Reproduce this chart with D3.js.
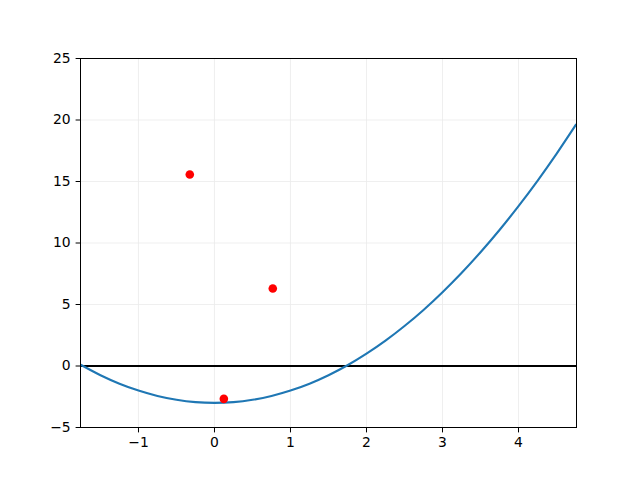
<!DOCTYPE html>
<html><head><meta charset="utf-8">
<script src="https://cdn.jsdelivr.net/npm/d3@7"></script>
<style>body{margin:0;background:#fff}svg{display:block}</style>
</head><body>
<script>
const curveX = [-1.76, -1.5, -1.25, -1.0, -0.75, -0.5, -0.25, 0, 0.25, 0.5, 0.75, 1.0, 1.25, 1.5, 1.75, 2.0, 2.25, 2.5, 2.75, 3.0, 3.25, 3.5, 3.75, 4.0, 4.25, 4.5, 4.76];
const curveY = [0.10, -0.75, -1.44, -2.0, -2.44, -2.75, -2.94, -3.0, -2.94, -2.75, -2.44, -2.0, -1.44, -0.75, 0.06, 1.0, 2.06, 3.25, 4.56, 6.0, 7.56, 9.25, 11.06, 13.0, 15.06, 17.25, 19.66];
const pointX = [-0.325, 0.767, 0.123];
const pointY = [15.57, 6.30, -2.67];
const xTicks = [-1, 0, 1, 2, 3, 4];
const yTicks = [-5, 0, 5, 10, 15, 20, 25];

const W = 640, H = 480;
const L = 80.5, R = 576.5, T = 58.5, B = 427.5;
const svg = d3.select("body").append("svg").attr("width", W).attr("height", H);
const x = d3.scaleLinear().domain([-1.763, 4.763]).range([L, R]);
const y = d3.scaleLinear().domain([-5, 25]).range([B, T]);

const g = svg.append("g");
// grid
g.selectAll(".gx").data(xTicks).join("line")
  .attr("x1", d => x(d)).attr("x2", d => x(d)).attr("y1", T).attr("y2", B)
  .attr("stroke", "#ebebeb").attr("stroke-width", 0.8);
g.selectAll(".gy").data(yTicks).join("line")
  .attr("y1", d => y(d)).attr("y2", d => y(d)).attr("x1", L).attr("x2", R)
  .attr("stroke", "#ebebeb").attr("stroke-width", 0.8);

svg.append("clipPath").attr("id", "c").append("rect")
  .attr("x", L).attr("y", T).attr("width", R - L).attr("height", B - T);
const plot = svg.append("g").attr("clip-path", "url(#c)");

// zero line
plot.append("line").attr("x1", L).attr("x2", R).attr("y1", y(0)).attr("y2", y(0))
  .attr("stroke", "#000").attr("stroke-width", 2);

const pts = curveX.map((v, i) => [v, curveY[i]]);
plot.append("path").datum(pts)
  .attr("d", d3.line().x(d => x(d[0])).y(d => y(d[1])).curve(d3.curveCatmullRom))
  .attr("fill", "none").attr("stroke", "#1f77b4").attr("stroke-width", 2.1);

plot.selectAll("circle").data(pointX.map((v, i) => [v, pointY[i]])).join("circle")
  .attr("cx", d => x(d[0])).attr("cy", d => y(d[1])).attr("r", 4.3).attr("fill", "#ff0000");

// axes
const fmt = d => d < 0 ? "\u2212" + Math.abs(d) : String(d);
const xa = svg.append("g").attr("transform", `translate(0,${B})`)
  .call(d3.axisBottom(x).tickValues(xTicks).tickFormat(fmt).tickSize(4.9).tickPadding(4.9).offset(0));
const ya = svg.append("g").attr("transform", `translate(${L},0)`)
  .call(d3.axisLeft(y).tickValues(yTicks).tickFormat(fmt).tickSize(4.9).tickPadding(4.9).offset(0));
[xa, ya].forEach(a => {
  a.select(".domain").remove();
  a.selectAll("line").attr("stroke", "#000").attr("stroke-width", 1);
  a.selectAll("text").attr("font-family", "DejaVu Sans").attr("font-size", "13.9px").attr("fill", "#000");
});
// frame
svg.append("rect").attr("x", L).attr("y", T).attr("width", R - L).attr("height", B - T)
  .attr("fill", "none").attr("stroke", "#000").attr("stroke-width", 1);
</script>
</body></html>
